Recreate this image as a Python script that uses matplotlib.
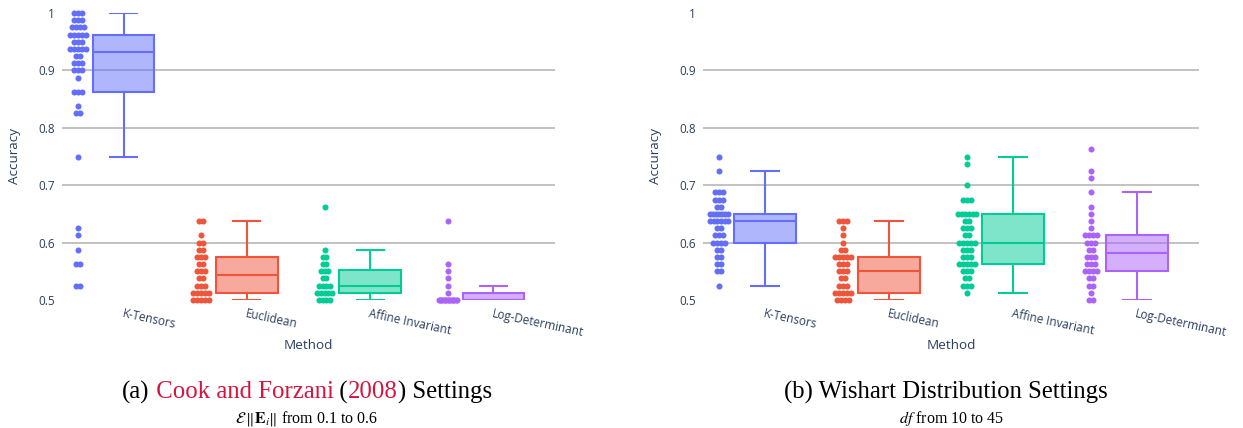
import numpy as np
import matplotlib
matplotlib.use('Agg')
import matplotlib.pyplot as plt
from matplotlib.offsetbox import TextArea, HPacker, AnnotationBbox

plt.rcParams['font.family'] = ['Open Sans', 'DejaVu Sans']
plt.rcParams['mathtext.fontset'] = 'stix'

methods = ['K-Tensors', 'Euclidean', 'Affine Invariant', 'Log-Determinant']
colors = ['#636efa', '#EF553B', '#00cc96', '#ab63fa']

# panel (a): accuracy levels and number of runs at each level
cook_kt_lv = [0.525, 0.5625, 0.5875, 0.6125, 0.625, 0.75, 0.825, 0.8375, 0.8625, 0.8875,
              0.9, 0.9125, 0.925, 0.9375, 0.95, 0.9625, 0.975, 0.9875, 1.0]
cook_kt_n = [2, 2, 1, 1, 1, 1, 2, 1, 3, 1, 3, 3, 2, 5, 3, 5, 4, 3, 3]
cook_eu_lv = [0.5, 0.5125, 0.525, 0.5375, 0.55, 0.5625, 0.575, 0.5875, 0.6, 0.6125, 0.6375]
cook_eu_n = [5, 5, 3, 2, 3, 2, 3, 2, 2, 1, 2]
cook_ai_lv = [0.5, 0.5125, 0.525, 0.5375, 0.55, 0.5625, 0.575, 0.5875, 0.6625]
cook_ai_n = [4, 5, 4, 2, 3, 2, 2, 1, 1]
cook_ld_lv = [0.5, 0.5125, 0.525, 0.5375, 0.55, 0.5625, 0.6375]
cook_ld_n = [15, 1, 1, 1, 1, 1, 1]

# panel (b)
wish_kt_lv = [0.525, 0.55, 0.5625, 0.575, 0.5875, 0.6, 0.6125, 0.625, 0.6375, 0.65,
              0.6625, 0.675, 0.6875, 0.725, 0.75]
wish_kt_n = [1, 2, 2, 2, 2, 4, 3, 2, 6, 7, 2, 3, 3, 1, 1]
wish_eu_lv = [0.5, 0.5125, 0.525, 0.5375, 0.55, 0.5625, 0.575, 0.5875, 0.6, 0.6125, 0.625, 0.6375]
wish_eu_n = [4, 5, 3, 2, 3, 3, 5, 2, 1, 1, 1, 3]
wish_ai_lv = [0.5125, 0.525, 0.5375, 0.55, 0.5625, 0.575, 0.5875, 0.6, 0.6125, 0.625,
              0.6375, 0.65, 0.675, 0.7, 0.7375, 0.75]
wish_ai_n = [1, 3, 2, 3, 5, 3, 3, 5, 2, 3, 2, 6, 3, 1, 1, 1]
wish_ld_lv = [0.5, 0.5125, 0.525, 0.5375, 0.55, 0.5625, 0.575, 0.5875, 0.6, 0.6125, 0.625,
              0.6375, 0.65, 0.6625, 0.6875, 0.7125, 0.725, 0.7625]
wish_ld_n = [2, 1, 2, 2, 4, 3, 3, 2, 3, 4, 1, 1, 1, 1, 1, 1, 1, 1]

y_ticks = [0.5, 0.6, 0.7, 0.8, 0.9, 1.0]
y_tick_labels = ['0.5', '0.6', '0.7', '0.8', '0.9', '1']

txt = '#2a3f5f'
W, H = 1243, 428


def spread(k):
    # side by side placement of equal values
    if k == 1:
        return np.zeros(1)
    step = min(0.032, 0.15 / (k - 1))
    return (np.arange(k) - (k - 1) / 2) * step


def panel(ax, levels, counts):
    for i, (lv, ct) in enumerate(zip(levels, counts)):
        c = colors[i]
        vals = np.repeat(lv, ct)
        bp = ax.boxplot([vals], positions=[i], widths=0.5, whis=1.51, patch_artist=True,
                        showfliers=False, capwidths=0.22)
        face = matplotlib.colors.to_rgba(c, 0.5)
        for b in bp['boxes']:
            b.set(facecolor=face, edgecolor=c, linewidth=1.5, zorder=3)
        for k in ['medians', 'whiskers', 'caps']:
            for l in bp[k]:
                l.set(color=c, linewidth=1.5, zorder=3)
        xs, ys = [], []
        for v, n in zip(lv, ct):
            xs.extend(i - 0.37 + spread(n))
            ys.extend([v] * n)
        ax.scatter(xs, ys, s=19, color=c, linewidths=0, zorder=4, clip_on=False)

    ax.set_xlim(-0.5, 3.5)
    ax.set_ylim(0.5, 1.0)
    ax.set_yticks(y_ticks)
    ax.set_yticklabels(y_tick_labels)
    ax.set_xticks(range(4))
    ax.set_xticklabels(methods, rotation=-12, ha='left', va='top', rotation_mode='anchor')
    ax.tick_params(length=0, labelsize=8.5, colors=txt)
    ax.tick_params(axis='y', pad=5)
    ax.tick_params(axis='x', pad=5)
    for s in ax.spines.values():
        s.set_visible(False)
    ax.yaxis.grid(True, color='#bdbdbd', linewidth=1.3, zorder=0)
    ax.set_axisbelow(True)
    gl = ax.get_ygridlines()
    gl[0].set_visible(False)
    gl[-1].set_visible(False)
    ax.text(0.5, -0.157, 'Method', transform=ax.transAxes, ha='center', va='center',
            fontsize=9.7, color=txt)
    ax.text(-0.096, 0.5, 'Accuracy', transform=ax.transAxes, ha='center', va='center',
            rotation=90, fontsize=9.7, color=txt)


fig = plt.figure(figsize=(W / 100, H / 100), dpi=100)
ax_a = fig.add_axes([62 / W, 128 / H, 493 / W, 287 / H])
ax_b = fig.add_axes([703 / W, 128 / H, 496 / W, 287 / H])

panel(ax_a, [cook_kt_lv, cook_eu_lv, cook_ai_lv, cook_ld_lv],
      [cook_kt_n, cook_eu_n, cook_ai_n, cook_ld_n])
panel(ax_b, [wish_kt_lv, wish_eu_lv, wish_ai_lv, wish_ld_lv],
      [wish_kt_n, wish_eu_n, wish_ai_n, wish_ld_n])

red = '#d4163e'
serif = 'Liberation Serif'


def caption(x, y, parts, size):
    boxes = [TextArea(t, textprops=dict(color=c, fontsize=size, family=serif)) for t, c in parts]
    pack = HPacker(children=boxes, align='baseline', pad=0, sep=0)
    ab = AnnotationBbox(pack, (x / W, 1 - y / H), xycoords='figure fraction', frameon=False,
                        box_alignment=(0.5, 0.5), pad=0)
    fig.add_artist(ab)


caption(307, 392, [('(a)', 'k'), (' Cook and Forzani', red), (' (', 'k'), ('2008', red),
                   (') Settings', 'k')], 17.8)
caption(946, 392, [('(b) Wishart Distribution Settings', 'k')], 17.8)
fig.text(307 / W, 1 - 418 / H, r'$\mathcal{E}\,\|\mathbf{E}_i\|$ from 0.1 to 0.6', ha='center',
         va='center', fontsize=11.5, family=serif)
fig.text(952 / W, 1 - 419 / H, r'$df$ from 10 to 45', ha='center', va='center', fontsize=11.5,
         family=serif)

fig.savefig('out.png', dpi=100)
